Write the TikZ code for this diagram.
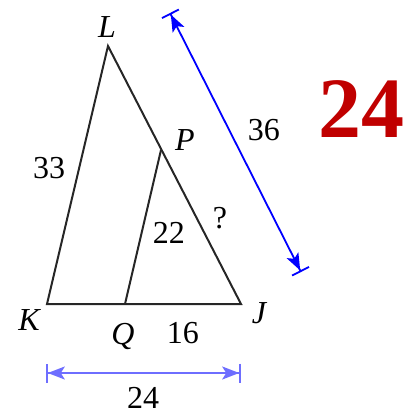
\documentclass[tikz,border=0pt]{standalone}
\usepackage{fontspec}
\setmainfont{Liberation Serif}
\usepackage{xcolor}
\usetikzlibrary{arrows.meta, positioning, calc}

\definecolor{darkred}{RGB}{192,0,0}
\definecolor{dimblue}{RGB}{0,0,255}
\definecolor{paleblue}{RGB}{110,110,255}

\begin{document}
\begin{tikzpicture}[
    x=0.5pt, y=-0.5pt,
    font=\fontsize{16}{18}\selectfont,
    side/.style={draw=black!85, line width=1pt},
    lbl/.style={inner sep=0pt, font=\fontsize{16}{18}\selectfont\itshape},
    num/.style={inner sep=0pt},
    dimline/.style={{Bar[width=9.5pt]Stealth[length=8.5pt, width=6.5pt, inset=2pt]}-{Stealth[length=8.5pt, width=6.5pt, inset=2pt]Bar[width=9.5pt]}, line width=0.9pt}
  ]
    \useasboundingbox (0,0) rectangle (414,419);

    % Triangle vertices
    \coordinate (L) at (108, 46);
    \coordinate (K) at (47, 304);
    \coordinate (J) at (241, 304);
    \coordinate (P) at (161, 150);
    \coordinate (Q) at (125, 304);

    \draw[side] (K) -- (L) -- (J) -- cycle;
    \draw[side] (Q) -- (P);

    % Vertex labels
    \node[lbl] (lL) at (107, 27) {L};
    \node[lbl] (lK) at (29, 320) {K};
    \node[lbl] (lJ) at (259, 313) {J};
    \node[lbl] (lP) at (185, 140) {P};
    \node[lbl] (lQ) at (123, 336) {Q};

    % Side lengths
    \node[num] (n33) at (49, 168) {33};
    \node[num] (n22) at (169, 233) {22};
    \node[num] (nq) at (220, 218) {?};
    \node[num] (n16) at (183, 333) {16};
    \node[num] (n36) at (264, 130) {36};
    \node[num] (n24) at (143, 398) {24};

    % Dimension lines
    \coordinate (dLJa) at (170, 13);
    \coordinate (dLJb) at (301, 272);
    \coordinate (dKJa) at (46, 373);
    \coordinate (dKJb) at (241, 373);
    \draw[dimline, draw=dimblue, fill=dimblue] (dLJa) -- (dLJb);
    \draw[dimline, draw=paleblue, fill=paleblue] (dKJa) -- (dKJb);

    % Answer
    \node[inner sep=0pt, text=darkred, font=\fontsize{43}{45}\selectfont\bfseries] (ans) at (362, 109) {24};
  \end{tikzpicture}
\end{document}
